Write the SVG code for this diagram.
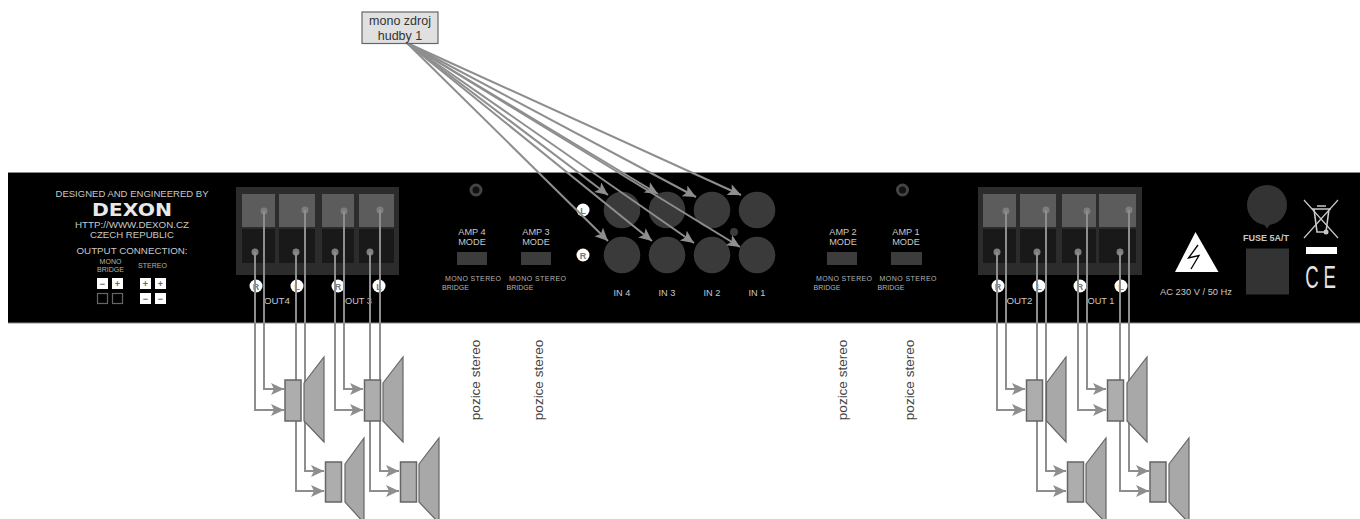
<svg xmlns="http://www.w3.org/2000/svg" width="1360" height="519" viewBox="0 0 1360 519">
<style>
text{font-family:"Liberation Sans",Arial,sans-serif;text-anchor:middle;fill:#c8c8c8}
.lbl{font-size:9.200px}
.sm{font-size:7px;fill:#b4b4b4}
.blk{fill:#2c2c2c}
.top{fill:#5c5c5c}
.bot{fill:#191919}
.dot{fill:#7e7e7e}
.tag{fill:#fff}
.tagt{font-size:9px;font-weight:bold;fill:#777}
.sw{fill:#3c3c3c}
.in{fill:#3a3a3a}
.wire{fill:none;stroke:#8e8e8e;stroke-width:2;marker-end:url(#ah)}
.spk{fill:#adadad;stroke:#666;stroke-width:1.500}
.cone{fill:#a8a8a8;stroke:#666;stroke-width:1.200}
.roz{font-size:13.500px;fill:#444}
.sq{fill:#fff}
.sqo{fill:none;stroke:#666;stroke-width:1.200}
.sqt{font-size:9px;font-weight:bold;fill:#666}
</style>
<defs>
<marker id="ah" markerUnits="userSpaceOnUse" markerWidth="16" markerHeight="14" refX="13" refY="6" orient="auto"><path d="M0 0L13 6L0 12L3 6Z" fill="#8e8e8e"/></marker>
</defs>
<rect id="panel" x="8" y="172" width="1352" height="151" fill="#000"/>
<path d="M8 172.500H1360M8 323H1360" stroke="#8c8c8c" stroke-width="1.200" fill="none"/>

<g id="maker">
<text x="132" y="197" class="lbl" textLength="153" lengthAdjust="spacingAndGlyphs">DESIGNED AND ENGINEERED BY</text>
<text x="132" y="216" font-size="17" font-weight="bold" textLength="80" lengthAdjust="spacingAndGlyphs" style="font-family:'DejaVu Sans',sans-serif;fill:#e8e8e8">DEXON</text>
<text x="132" y="227.500" class="lbl" textLength="114" lengthAdjust="spacingAndGlyphs">HTTP://WWW.DEXON.CZ</text>
<text x="132" y="237.500" class="lbl" textLength="84" lengthAdjust="spacingAndGlyphs">CZECH REPUBLIC</text>
<text x="132" y="253.500" class="lbl" textLength="111" lengthAdjust="spacingAndGlyphs">OUTPUT CONNECTION:</text>
<text x="110.500" y="263.500" class="sm">MONO</text>
<text x="110.500" y="271.500" class="sm">BRIDGE</text>
<text x="152.500" y="268" class="sm">STEREO</text>
<rect x="97" y="278" width="11" height="11" class="sq"/><rect x="112" y="278" width="11" height="11" class="sq"/>
<rect x="140" y="278" width="11" height="11" class="sq"/><rect x="155" y="278" width="11" height="11" class="sq"/>
<rect x="97.500" y="293.500" width="10" height="10" class="sqo"/><rect x="112.500" y="293.500" width="10" height="10" class="sqo"/>
<rect x="140" y="293" width="11" height="11" class="sq"/><rect x="155" y="293" width="11" height="11" class="sq"/>
<text x="102.500" y="286.500" class="sqt">−</text><text x="117.500" y="286.500" class="sqt">+</text>
<text x="145.500" y="286.500" class="sqt">+</text><text x="160.500" y="286.500" class="sqt">+</text>
<text x="145.500" y="301.500" class="sqt">−</text><text x="160.500" y="301.500" class="sqt">−</text>
</g>

<g id="terminal-left">
<rect x="236" y="187" width="163" height="88" class="blk"/>
<rect x="242" y="194" width="33" height="33" class="top"/><rect x="279" y="194" width="36" height="33" class="top"/><rect x="322" y="194" width="32" height="33" class="top"/><rect x="359" y="194" width="35" height="33" class="top"/>
<rect x="242" y="229" width="33" height="34" class="bot"/><rect x="279" y="229" width="36" height="34" class="bot"/><rect x="322" y="229" width="32" height="34" class="bot"/><rect x="359" y="229" width="35" height="34" class="bot"/>
<circle cx="255" cy="252" r="3.500" class="dot"/><circle cx="296" cy="252" r="3.500" class="dot"/><circle cx="335" cy="252" r="3.500" class="dot"/><circle cx="370" cy="252" r="3.500" class="dot"/>
<circle cx="264" cy="211" r="3.500" class="dot"/><circle cx="305" cy="210" r="3.500" class="dot"/><circle cx="344" cy="211" r="3.500" class="dot"/><circle cx="380" cy="210" r="3.500" class="dot"/>
<circle cx="256" cy="286" r="6.500" class="tag"/><circle cx="297" cy="286" r="6.500" class="tag"/><circle cx="338" cy="286" r="6.500" class="tag"/><circle cx="379" cy="286" r="6.500" class="tag"/>
<text x="256" y="289.500" class="tagt">R</text><text x="297" y="289.500" class="tagt">L</text><text x="338" y="289.500" class="tagt">R</text><text x="379" y="289.500" class="tagt">L</text>
<text x="277" y="304" class="lbl" textLength="26" lengthAdjust="spacingAndGlyphs">OUT4</text><text x="358.500" y="304" class="lbl" textLength="27" lengthAdjust="spacingAndGlyphs">OUT 3</text>
</g>

<g id="amp4"><circle cx="476" cy="190" r="5" fill="#111" stroke="#444" stroke-width="3"/>
<text x="472" y="235" class="lbl">AMP 4</text><text x="472" y="245" class="lbl">MODE</text><rect x="457" y="252" width="30" height="13" class="sw"/>
<text x="473" y="280.500" class="sm" textLength="56" lengthAdjust="spacing">MONO  STEREO</text><text x="455.500" y="289.500" class="sm">BRIDGE</text></g>
<g id="amp3">
<text x="536" y="235" class="lbl">AMP 3</text><text x="536" y="245" class="lbl">MODE</text><rect x="521" y="252" width="30" height="13" class="sw"/>
<text x="537.500" y="280.500" class="sm" textLength="57" lengthAdjust="spacing">MONO  STEREO</text><text x="520" y="289.500" class="sm">BRIDGE</text></g>

<g id="inputs">
<circle cx="622" cy="210" r="18.300" class="in"/><circle cx="667" cy="210" r="18.300" class="in"/><circle cx="712" cy="210" r="18.300" class="in"/><circle cx="757" cy="210" r="18.300" class="in"/>
<circle cx="622" cy="255" r="18.300" class="in"/><circle cx="667" cy="255" r="18.300" class="in"/><circle cx="712" cy="255" r="18.300" class="in"/><circle cx="757" cy="255" r="18.300" class="in"/>
<circle cx="734" cy="232" r="4" class="in"/>
<circle cx="583" cy="210" r="6.500" class="tag"/><circle cx="583" cy="255" r="6.500" class="tag"/>
<text x="583" y="213.500" class="tagt">L</text><text x="583" y="258.500" class="tagt">R</text>
<text x="622" y="296" class="lbl">IN 4</text><text x="667" y="296" class="lbl">IN 3</text><text x="712" y="296" class="lbl">IN 2</text><text x="757" y="296" class="lbl">IN 1</text>
</g>

<g id="amp2"><circle cx="902.500" cy="190" r="5" fill="#111" stroke="#444" stroke-width="3"/>
<text x="843" y="235" class="lbl">AMP 2</text><text x="843" y="245" class="lbl">MODE</text><rect x="827" y="252" width="30" height="13" class="sw"/>
<text x="844" y="280.500" class="sm" textLength="56" lengthAdjust="spacing">MONO  STEREO</text><text x="827" y="289.500" class="sm">BRIDGE</text></g>
<g id="amp1">
<text x="906" y="235" class="lbl">AMP 1</text><text x="906" y="245" class="lbl">MODE</text><rect x="891" y="252" width="31" height="13" class="sw"/>
<text x="908" y="280.500" class="sm" textLength="57" lengthAdjust="spacing">MONO  STEREO</text><text x="891" y="289.500" class="sm">BRIDGE</text></g>

<g id="terminal-right">
<rect x="978" y="187" width="164" height="88" class="blk"/>
<rect x="983" y="194" width="33" height="33" class="top"/><rect x="1020" y="194" width="36" height="33" class="top"/><rect x="1062" y="194" width="34" height="33" class="top"/><rect x="1099" y="194" width="37" height="33" class="top"/>
<rect x="983" y="229" width="33" height="34" class="bot"/><rect x="1020" y="229" width="36" height="34" class="bot"/><rect x="1062" y="229" width="34" height="34" class="bot"/><rect x="1099" y="229" width="37" height="34" class="bot"/>
<circle cx="997" cy="252" r="3.500" class="dot"/><circle cx="1037" cy="252" r="3.500" class="dot"/><circle cx="1078" cy="252" r="3.500" class="dot"/><circle cx="1120" cy="252" r="3.500" class="dot"/>
<circle cx="1006" cy="211" r="3.500" class="dot"/><circle cx="1046" cy="210" r="3.500" class="dot"/><circle cx="1087" cy="211" r="3.500" class="dot"/><circle cx="1129" cy="210" r="3.500" class="dot"/>
<circle cx="998" cy="286" r="6.500" class="tag"/><circle cx="1039" cy="286" r="6.500" class="tag"/><circle cx="1080" cy="286" r="6.500" class="tag"/><circle cx="1121" cy="286" r="6.500" class="tag"/>
<text x="998" y="289.500" class="tagt">R</text><text x="1039" y="289.500" class="tagt">L</text><text x="1080" y="289.500" class="tagt">R</text><text x="1121" y="289.500" class="tagt">L</text>
<text x="1019.500" y="304" class="lbl" textLength="26" lengthAdjust="spacingAndGlyphs">OUT2</text><text x="1101" y="304" class="lbl" textLength="27" lengthAdjust="spacingAndGlyphs">OUT 1</text>
</g>

<g id="mains">
<polygon points="1195.500,232 1218.500,272 1175,272" fill="#fff"/>
<path d="M1198 245L1188.500 258L1199 255.500L1191 269" stroke="#000" stroke-width="1.300" fill="none"/>
<text x="1196" y="295" class="lbl" textLength="72" lengthAdjust="spacingAndGlyphs">AC 230 V / 50 Hz</text>
</g>
<g id="fuse">
<circle cx="1267" cy="205" r="20" fill="#333"/><path d="M1262 222L1272 222L1267 228.500Z" fill="#333"/>
<text x="1266" y="241" class="lbl" font-weight="bold" textLength="46" lengthAdjust="spacingAndGlyphs">FUSE 5A/T</text>
<rect x="1246" y="248.500" width="43" height="46" fill="#333"/>
</g>
<g id="marks">
<path d="M1304 200L1338 238M1338 200L1304 238" stroke="#c8c8c8" stroke-width="1.200" fill="none"/>
<path d="M1312 209H1331M1314 209L1317 232H1326L1329 209M1317 206H1326" stroke="#c8c8c8" stroke-width="1.600" fill="none"/>
<circle cx="1326" cy="232" r="2.500" fill="#c8c8c8"/>
<rect x="1306" y="247" width="31" height="7" fill="#fff"/>
<text transform="translate(1323 288) scale(.6 1)" font-size="31" letter-spacing="8" style="fill:#e4e4e4">CE</text>
</g>

<g id="connectors">
<path class="wire" d="M255 252V410H284"/><path class="wire" d="M264 211V389H284"/>
<path class="wire" d="M296 252V491H324"/><path class="wire" d="M305 210V471H324"/>
<path class="wire" d="M335 252V410H363"/><path class="wire" d="M344 211V389H363"/>
<path class="wire" d="M370 252V491H399"/><path class="wire" d="M380 210V471H399"/>
<path class="wire" d="M997 252V410H1025"/><path class="wire" d="M1006 211V389H1025"/>
<path class="wire" d="M1037 252V491H1066"/><path class="wire" d="M1046 210V471H1066"/>
<path class="wire" d="M1078 252V410H1106"/><path class="wire" d="M1087 211V389H1106"/>
<path class="wire" d="M1120 252V491H1149"/><path class="wire" d="M1129 210V471H1149"/>
<path class="wire" d="M407 43L608 195"/><path class="wire" d="M407 43L658 194"/><path class="wire" d="M407 43L696 197"/><path class="wire" d="M407 43L741 195"/>
<path class="wire" d="M407 43L608 241"/><path class="wire" d="M407 43L652 241"/><path class="wire" d="M407 43L694 243"/><path class="wire" d="M407 43L740 247"/>
</g>

<g id="speaker-1"><rect x="285" y="380" width="16" height="41" class="spk"/><polygon points="304,383 324,357 324,442 304,421" class="cone"/></g>
<g id="speaker-2"><rect x="325.500" y="462" width="16" height="40" class="spk"/><polygon points="345,464 364,438 364,523 345,502" class="cone"/></g>
<g id="speaker-3"><rect x="364.500" y="380" width="16" height="41" class="spk"/><polygon points="383,383 403,357 403,442 383,421" class="cone"/></g>
<g id="speaker-4"><rect x="400.500" y="462" width="16" height="40" class="spk"/><polygon points="419,464 439,438 439,523 419,502" class="cone"/></g>
<g id="speaker-5"><rect x="1026.500" y="380" width="16" height="41" class="spk"/><polygon points="1046.500,383 1066,357 1066,442 1046.500,421" class="cone"/></g>
<g id="speaker-6"><rect x="1067.500" y="462" width="16" height="40" class="spk"/><polygon points="1086,464 1106,438 1106,523 1086,502" class="cone"/></g>
<g id="speaker-7"><rect x="1107.500" y="380" width="16" height="41" class="spk"/><polygon points="1127,383 1147,357 1147,442 1127,421" class="cone"/></g>
<g id="speaker-8"><rect x="1150" y="462" width="16" height="40" class="spk"/><polygon points="1169,464 1189,438 1189,523 1169,502" class="cone"/></g>

<g id="pos-amp4"><text transform="translate(480 380) rotate(-90)" class="roz">pozice stereo</text></g>
<g id="pos-amp3"><text transform="translate(543 380) rotate(-90)" class="roz">pozice stereo</text></g>
<g id="pos-amp2"><text transform="translate(847 380) rotate(-90)" class="roz">pozice stereo</text></g>
<g id="pos-amp1"><text transform="translate(914 380) rotate(-90)" class="roz">pozice stereo</text></g>

<g id="source">
<rect x="362" y="12" width="76" height="31.500" fill="#e0e0e0" stroke="#666" stroke-width="1.200"/>
<text x="400" y="25" font-size="12.500" style="fill:#333">mono zdroj</text>
<text x="400" y="39.500" font-size="12.500" style="fill:#333">hudby 1</text>
</g>
</svg>
